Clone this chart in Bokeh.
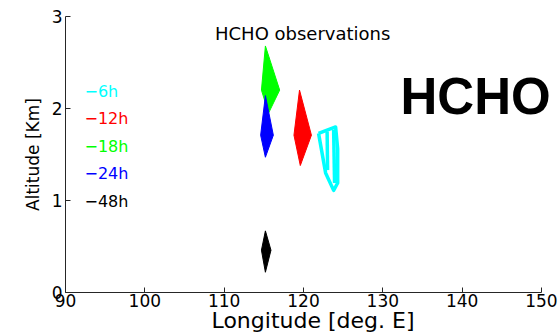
from bokeh.plotting import figure
from bokeh.models import Range1d, FixedTicker
from bokeh.embed import file_html
from bokeh.resources import INLINE
from bokeh.core.properties import value

# Trajectory envelopes (longitude deg E, altitude km)
green_lon = [115.2, 117.0, 115.6, 114.7]
green_alt = [2.68, 2.20, 1.95, 2.20]
blue_lon = [115.2, 116.2, 115.2, 114.6]
blue_alt = [2.14, 1.71, 1.47, 1.71]
red_lon = [119.5, 121.0, 119.6, 118.8]
red_alt = [2.20, 1.71, 1.38, 1.71]
black_lon = [115.2, 115.9, 115.2, 114.7]
black_alt = [0.67, 0.46, 0.22, 0.46]
cyan_paths_lon = [[121.90, 122.79, 123.80, 124.31, 124.31, 124.05, 121.90],
                  [122.98, 123.04],
                  [123.80, 123.92]]
cyan_paths_alt = [[1.73, 1.30, 1.11, 1.19, 1.56, 1.80, 1.73],
                  [1.75, 1.33],
                  [1.77, 1.19]]

legend_labels = ["\u22126h", "\u221212h", "\u221218h", "\u221224h", "\u221248h"]
legend_colors = ["#00FFFF", "#FF0000", "#00FF00", "#0000FF", "#000000"]
legend_alt = [2.19, 1.89, 1.59, 1.29, 0.99]

x_ticks = [90, 100, 110, 120, 130, 140, 150]
y_ticks = [0, 1, 2, 3]
x_lim = (90, 150)

FONT = "DejaVu Sans"

# frame extends to the right page edge so the big label is not clipped;
# the x axis itself is bounded to 90..150
p = figure(width=560, height=335, output_backend="svg", toolbar_location=None,
           x_range=Range1d(90, 152.4), y_range=Range1d(0, 3),
           min_border_left=65, min_border_right=0, min_border_top=16, min_border_bottom=39)
p.outline_line_color = None
p.grid.visible = False
p.background_fill_color = "white"
p.border_fill_color = "white"

for ax in (p.xaxis[0], p.yaxis[0]):
    ax.major_tick_in = 5
    ax.major_tick_out = 0
    ax.minor_tick_line_color = None
    ax.axis_line_color = "#262626"
    ax.major_tick_line_color = "#262626"
    ax.major_label_text_font = FONT
    ax.major_label_text_font_size = "17px"
    ax.major_label_text_color = "#000000"
    ax.axis_label_text_font = FONT
    ax.axis_label_text_font_style = "normal"
    ax.axis_label_text_color = "#000000"

p.xaxis.bounds = x_lim
p.xaxis.ticker = FixedTicker(ticks=x_ticks)
p.yaxis.ticker = FixedTicker(ticks=y_ticks)
p.xaxis.axis_label = "Longitude [deg. E]"
p.yaxis.axis_label = "Altitude [Km]"
p.xaxis.axis_label_text_font_size = "22px"
p.yaxis.axis_label_text_font_size = "17px"
p.xaxis.major_label_standoff = 1
p.yaxis.major_label_standoff = 3
p.xaxis.axis_label_standoff = -2
p.yaxis.axis_label_standoff = 6

p.patch(green_lon, green_alt, fill_color="#00FF00", line_color="#00FF00", line_width=1)
p.patch(blue_lon, blue_alt, fill_color="#0000FF", line_color="#0000FF", line_width=1)
p.patch(red_lon, red_alt, fill_color="#FF0000", line_color="#FF0000", line_width=1)
p.patch(black_lon, black_alt, fill_color="#000000", line_color="#000000", line_width=1)
p.multi_line(cyan_paths_lon, cyan_paths_alt, line_color="#00FFFF", line_width=3.5,
             line_join="round")

p.text(x=[92.4] * len(legend_labels), y=legend_alt, text=legend_labels,
       text_color=legend_colors, text_font=value(FONT), text_font_size="16px",
       text_baseline="middle", text_align="left")

p.text(x=[119.9], y=[2.81], text=["HCHO observations"], text_font=value(FONT),
       text_font_size="18px", text_baseline="middle", text_align="center", text_color="black")

p.text(x=[141.7], y=[2.13], text=["HCHO"], text_font=value("Liberation Sans"),
       text_font_size="51px", text_font_style="bold", text_baseline="middle",
       text_align="center", text_color="black")

open("out.html", "w").write(file_html(p, INLINE))
